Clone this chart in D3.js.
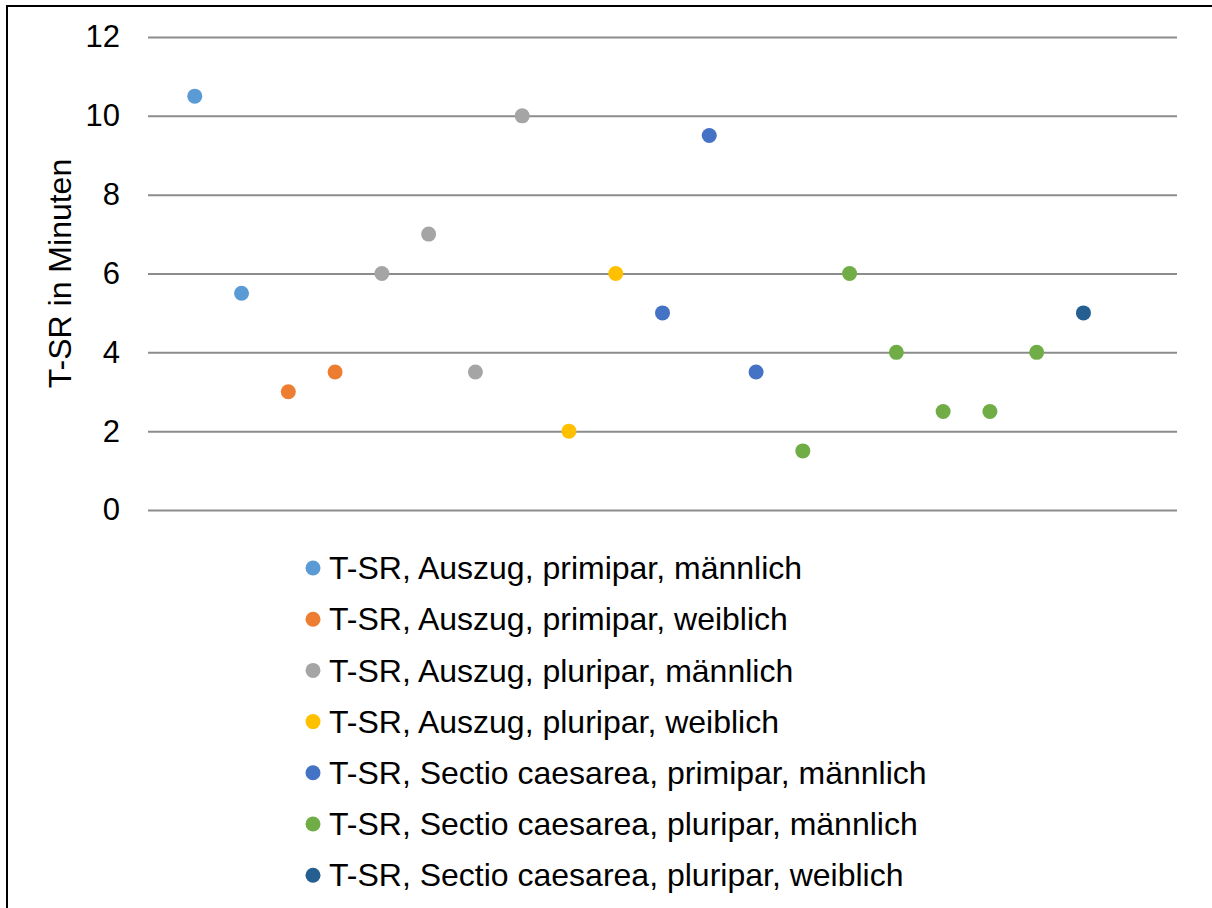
<!DOCTYPE html>
<html lang="de">
<head>
<meta charset="utf-8">
<title>T-SR in Minuten</title>
<script src="https://d3js.org/d3.v7.min.js"></script>
<style>
  body { margin: 0; background: #fff; }
  svg text { font-family: "Liberation Sans", Arial, sans-serif; fill: #000; }
</style>
</head>
<body>
<div id="chart"></div>
<script>
// series names (legend order) and colours
var seriesNames = [
    "T-SR, Auszug, primipar, männlich",
    "T-SR, Auszug, primipar, weiblich",
    "T-SR, Auszug, pluripar, männlich",
    "T-SR, Auszug, pluripar, weiblich",
    "T-SR, Sectio caesarea, primipar, männlich",
    "T-SR, Sectio caesarea, pluripar, männlich",
    "T-SR, Sectio caesarea, pluripar, weiblich"
]
var seriesColors = ["#5b9bd5", "#ed7d31", "#a5a5a5", "#ffc000", "#4472c4", "#70ad47", "#255e91"]

// case number (x) and minutes (y) per series
var caseIndex = [[1, 2], [3, 4], [5, 6, 7, 8], [9, 10], [11, 12, 13], [14, 15, 16, 17, 18, 19], [20]]
var minutes = [[10.5, 5.5], [3, 3.5], [6, 7, 3.5, 10], [2, 6], [5, 9.5, 3.5], [1.5, 6, 4, 2.5, 2.5, 4], [5]]

var yTicks = [0, 2, 4, 6, 8, 10, 12]

var width = 1212, height = 908
var plot = {left: 148, right: 1177, top: 37, bottom: 510}

var svg = d3.select("#chart").append("svg")
    .attr("width", width)
    .attr("height", height)

// outer frame (runs off the right / bottom edge like the source image)
svg.append("rect")
    .attr("x", 7).attr("y", 6)
    .attr("width", 1240).attr("height", 1000)
    .attr("fill", "none")
    .attr("stroke", "#000")
    .attr("stroke-width", 2)

var x = d3.scaleLinear().domain([0, 22]).range([plot.left, plot.right])
var y = d3.scaleLinear().domain([0, 12]).range([plot.bottom, plot.top])

// gridlines + tick labels
var yAxis = d3.axisLeft(y)
    .tickValues(yTicks)
    .tickSize(-(plot.right - plot.left))
    .tickPadding(28)
    .tickFormat(d3.format("d"))

var gy = svg.append("g")
    .attr("transform", "translate(" + plot.left + ",0)")
    .call(yAxis)
gy.select(".domain").remove()
gy.selectAll(".tick line")
    .attr("stroke", "#8c8c8c")
    .attr("stroke-width", 2)
gy.selectAll(".tick text")
    .attr("font-size", "31px")
    .attr("font-family", "Liberation Sans, Arial, sans-serif")

// y axis title
svg.append("text")
    .attr("transform", "translate(71," + ((plot.top + plot.bottom) / 2) + ") rotate(-90)")
    .attr("text-anchor", "middle")
    .style("font-size", "32px")
    .text("T-SR in Minuten")

// points
var points = []
seriesNames.forEach(function(name, i) {
    caseIndex[i].forEach(function(c, j) {
        points.push({series: i, x: c, y: minutes[i][j]})
    })
})

svg.append("g").selectAll("circle")
    .data(points)
    .enter()
    .append("circle")
    .attr("cx", function(d) { return x(d.x) })
    .attr("cy", function(d) { return y(d.y) })
    .attr("r", 7.5)
    .attr("fill", function(d) { return seriesColors[d.series] })

// legend
var legend = svg.append("g").attr("transform", "translate(313,568)")
var row = legend.selectAll("g")
    .data(seriesNames)
    .enter()
    .append("g")
    .attr("transform", function(d, i) { return "translate(0," + (i * 51.2) + ")" })

row.append("circle")
    .attr("r", 7.5)
    .attr("fill", function(d, i) { return seriesColors[i] })

row.append("text")
    .attr("x", 16)
    .attr("dy", "0.35em")
    .style("font-size", "32px")
    .text(function(d) { return d })
</script>
</body>
</html>
